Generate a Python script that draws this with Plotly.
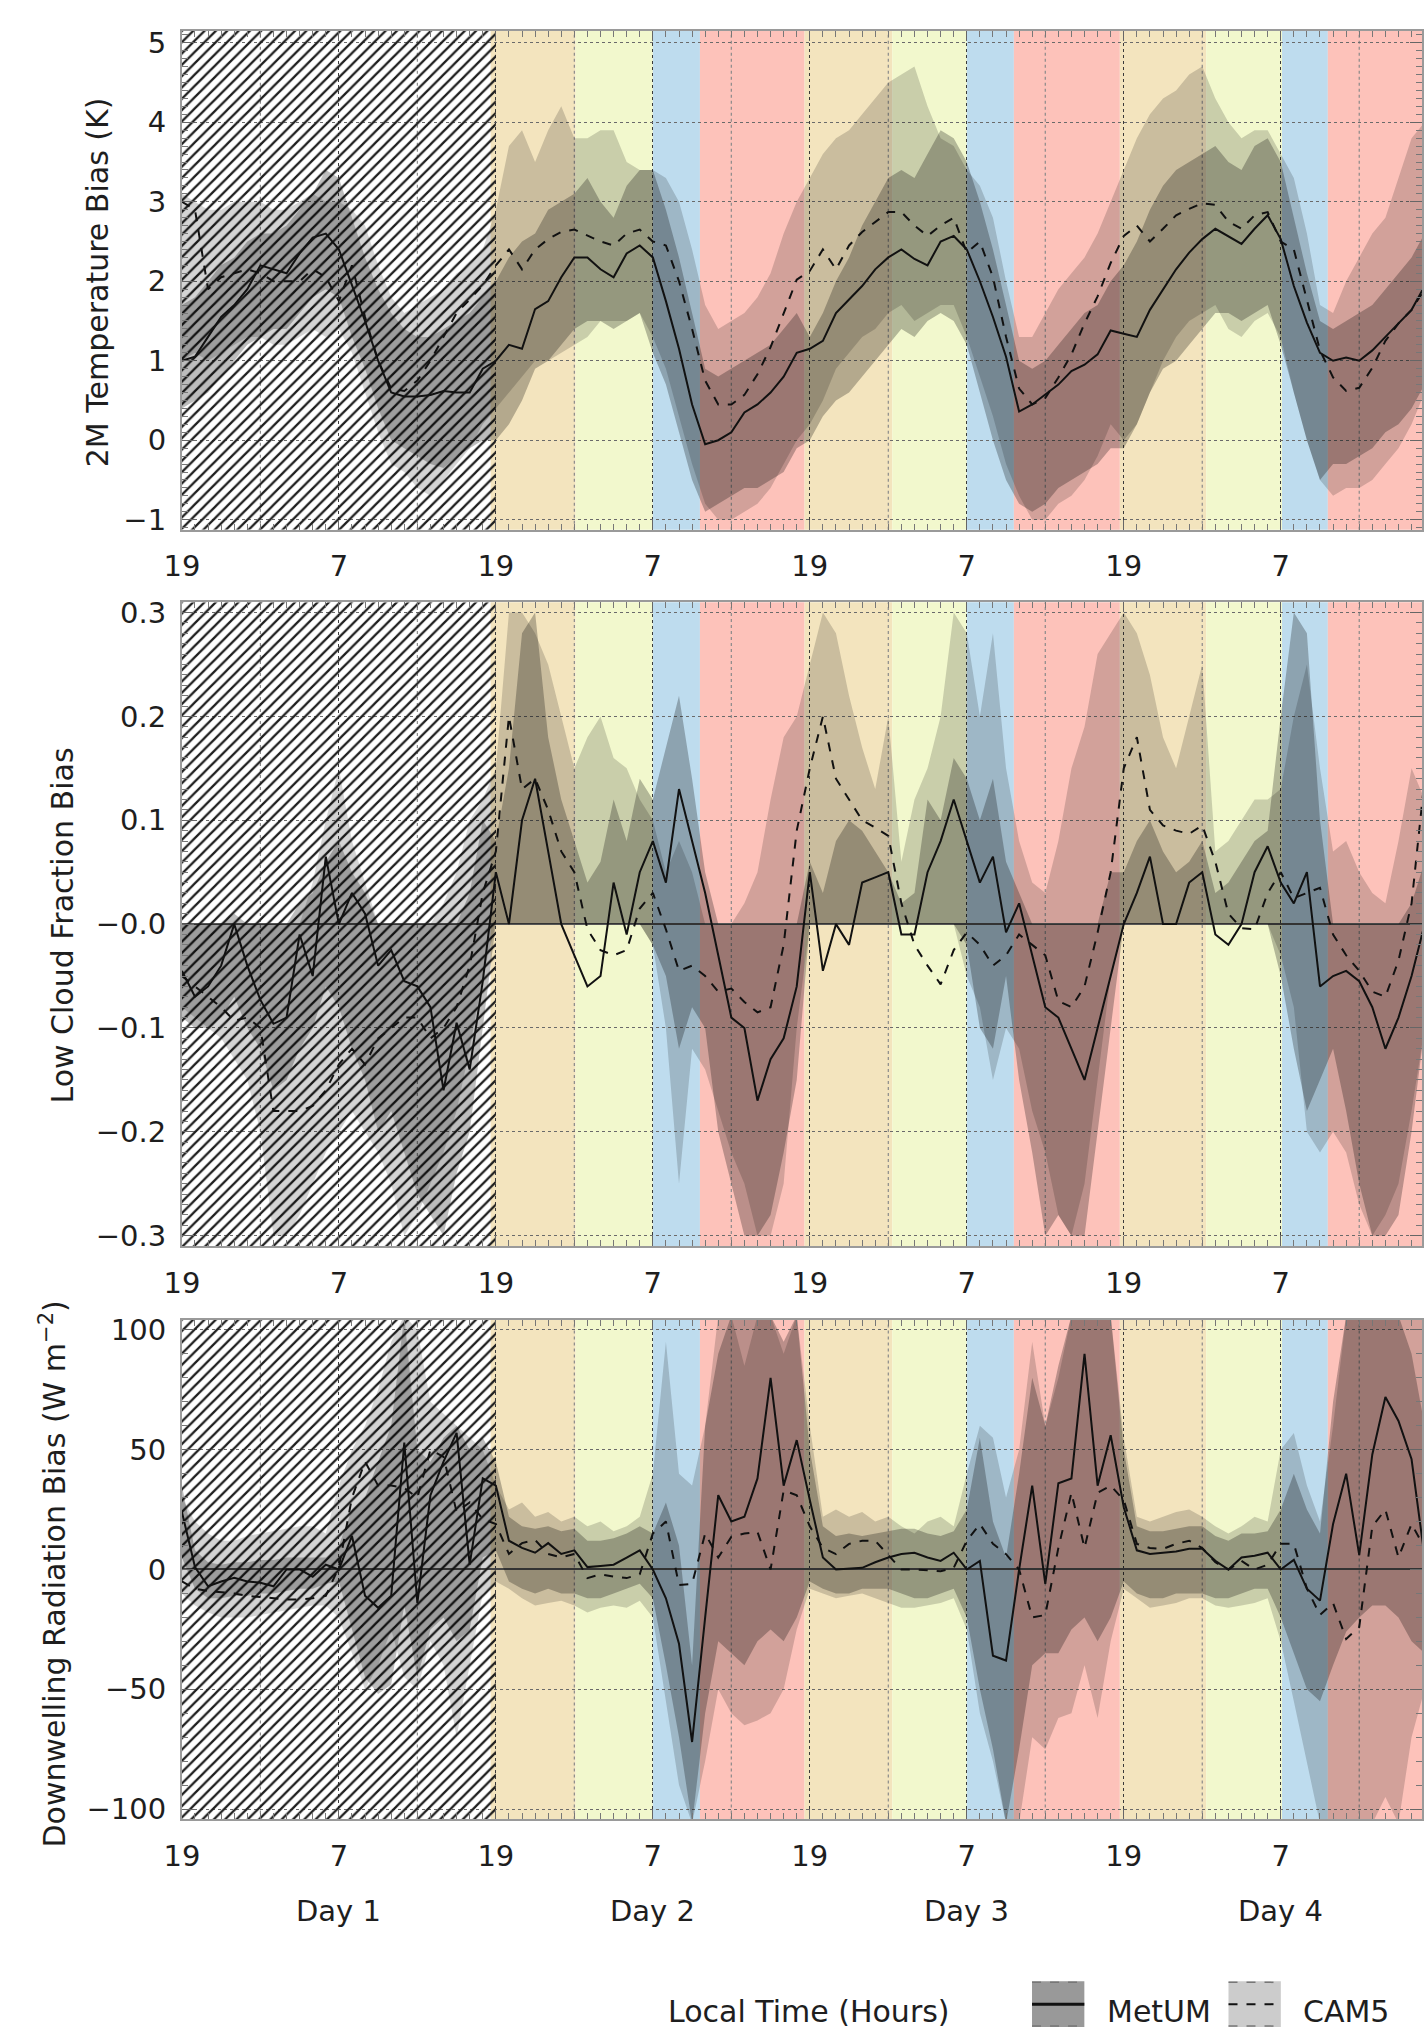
import plotly.graph_objects as go

W, H = 1424, 2042
FONT = "DejaVu Sans"
TXT = "#1e1e1e"

# ---------------- data (hour 0 = 19 local time on day 1) ----------------
HOURS = list(range(96))
X_RANGE = [0, 94.8]
TICK_HOURS = [0, 12, 24, 36, 48, 60, 72, 84]
TICK_TEXT = ["19", "7", "19", "7", "19", "7", "19", "7"]
DAY_HOURS = [12, 36, 60, 84]
DAY_TEXT = ["Day 1", "Day 2", "Day 3", "Day 4"]
GRID6_HOURS = [6, 18, 30, 42, 54, 66, 78, 90]
SPINUP_END = 24

PERIOD_START = [23.6, 30.1, 36.0, 39.6, 47.6, 54.3, 60.0, 63.6, 71.7, 78.3, 84.1, 87.6]
PERIOD_END = [30.1, 36.0, 39.6, 47.6, 54.3, 60.0, 63.6, 71.7, 78.3, 84.1, 87.6, 94.8]
PERIOD_COLOR = ["#f3e4be", "#f2f8cd", "#bedcee", "#fdc2ba"] * 3

# 2M temperature bias (K)
T_metum = [1.0, 1.05, 1.3, 1.55, 1.7, 1.9, 2.2, 2.15, 2.1, 2.35, 2.55, 2.6, 2.4, 1.95, 1.5, 1.0, 0.6, 0.55, 0.55, 0.57, 0.62, 0.6, 0.6, 0.9,
           1.0, 1.2, 1.15, 1.65, 1.75, 2.05, 2.3, 2.3, 2.15, 2.05, 2.35, 2.45, 2.3, 1.75, 1.15, 0.45, -0.05, 0.0, 0.1, 0.35, 0.45, 0.6, 0.8, 1.1,
           1.15, 1.25, 1.6, 1.77, 1.94, 2.15, 2.3, 2.4, 2.28, 2.2, 2.5, 2.57, 2.4, 2.0, 1.55, 1.05, 0.36, 0.45, 0.57, 0.7, 0.87, 0.95, 1.08, 1.38,
           1.34, 1.3, 1.64, 1.9, 2.15, 2.36, 2.53, 2.66, 2.57, 2.47, 2.66, 2.83, 2.53, 1.94, 1.48, 1.1, 1.0, 1.04, 1.0, 1.13, 1.3, 1.47, 1.64, 1.94]
T_cam5 = [3.0, 2.9, 1.9, 2.05, 2.1, 2.15, 2.1, 2.0, 2.0, 2.0, 2.15, 2.05, 1.75, 2.2, 1.55, 1.0, 0.65, 0.62, 0.75, 1.0, 1.3, 1.6, 1.77, 1.95,
          2.2, 2.4, 2.15, 2.4, 2.53, 2.62, 2.65, 2.57, 2.5, 2.45, 2.6, 2.65, 2.5, 2.45, 2.0, 1.4, 0.75, 0.45, 0.45, 0.57, 0.83, 1.17, 1.6, 2.02,
          2.13, 2.4, 2.15, 2.45, 2.62, 2.75, 2.87, 2.87, 2.7, 2.57, 2.7, 2.8, 2.36, 2.5, 2.05, 1.3, 0.65, 0.45, 0.53, 0.79, 1.08, 1.47, 1.81, 2.23,
          2.57, 2.7, 2.5, 2.66, 2.83, 2.91, 2.98, 2.96, 2.75, 2.66, 2.83, 2.87, 2.5, 2.4, 1.77, 1.13, 0.79, 0.62, 0.66, 0.91, 1.25, 1.47, 1.64, 1.9]
T_metum_lo = [0.4, 0.5, 0.6, 0.8, 1.0, 1.2, 1.3, 1.4, 1.4, 1.6, 1.8, 1.9, 1.8, 1.3, 0.9, 0.4, 0.0, -0.1, -0.2, -0.3, -0.35, -0.2, -0.1, 0.0,
              0.0, 0.2, 0.5, 0.9, 1.0, 1.2, 1.4, 1.5, 1.5, 1.4, 1.5, 1.6, 1.1, 0.7, 0.1, -0.5, -0.9, -0.8, -0.7, -0.6, -0.6, -0.5, -0.4, -0.1,
              0.0, 0.3, 0.5, 0.6, 0.8, 1.0, 1.2, 1.4, 1.3, 1.5, 1.6, 1.5, 1.2, 0.6, 0.0, -0.5, -0.8, -0.9, -0.8, -0.6, -0.5, -0.4, -0.3, -0.1,
              -0.1, 0.2, 0.6, 0.9, 1.0, 1.2, 1.4, 1.6, 1.6, 1.5, 1.6, 1.7, 1.2, 0.6, 0.0, -0.5, -0.3, -0.3, -0.2, -0.1, 0.1, 0.2, 0.4, 0.7]
T_metum_hi = [1.7, 1.8, 2.0, 2.2, 2.3, 2.5, 2.6, 2.6, 2.7, 2.9, 3.1, 3.4, 3.3, 2.8, 2.3, 1.9, 1.6, 1.4, 1.3, 1.3, 1.4, 1.5, 1.6, 1.8,
              2.0, 2.3, 2.5, 2.6, 2.9, 3.0, 3.1, 3.3, 3.0, 2.8, 3.2, 3.4, 3.4, 2.9, 2.3, 1.6, 0.9, 0.8, 0.9, 1.0, 1.1, 1.2, 1.4, 1.6,
              1.3, 1.6, 2.0, 2.3, 2.7, 3.0, 3.3, 3.4, 3.3, 3.6, 3.9, 3.8, 3.5, 3.0, 2.4, 1.7, 1.0, 0.9, 1.0, 1.2, 1.4, 1.6, 1.7, 2.0,
              2.2, 2.5, 2.9, 3.2, 3.4, 3.5, 3.6, 3.7, 3.5, 3.4, 3.7, 3.8, 3.5, 2.8, 2.1, 1.5, 1.4, 1.5, 1.6, 1.7, 1.9, 2.1, 2.3, 2.6]
T_cam5_lo = [1.0, 1.1, 1.0, 1.1, 1.2, 1.3, 1.3, 1.2, 1.2, 1.3, 1.4, 1.3, 1.4, 1.1, 0.6, 0.1, -0.3, -0.4, -0.6, -0.7, -0.5, -0.3, -0.1, 0.2,
             0.4, 0.6, 0.8, 1.0, 1.0, 1.1, 1.2, 1.3, 1.5, 1.5, 1.5, 1.6, 1.3, 0.9, 0.3, -0.3, -0.8, -1.0, -1.0, -0.9, -0.8, -0.6, -0.3, 0.0,
             0.2, 0.5, 0.9, 1.1, 1.3, 1.4, 1.6, 1.7, 1.5, 1.6, 1.7, 1.7, 1.3, 0.8, 0.3, -0.3, -0.7, -1.0, -1.0, -0.8, -0.7, -0.5, -0.2, 0.2,
             0.0, 0.2, 0.6, 1.0, 1.3, 1.5, 1.6, 1.7, 1.4, 1.3, 1.5, 1.6, 1.3, 0.6, 0.0, -0.5, -0.7, -0.6, -0.6, -0.5, -0.3, -0.1, 0.2, 0.6]
T_cam5_hi = [3.1, 3.0, 2.9, 2.9, 3.0, 3.0, 3.0, 2.9, 2.9, 3.0, 3.1, 3.0, 3.0, 2.9, 2.7, 2.2, 1.8, 1.6, 1.7, 1.8, 1.9, 2.1, 2.2, 2.4,
             2.9, 3.7, 3.9, 3.5, 3.9, 4.2, 3.8, 3.8, 3.9, 3.9, 3.5, 3.4, 3.4, 3.3, 3.0, 2.4, 1.7, 1.4, 1.5, 1.6, 1.8, 2.1, 2.6, 3.0,
             3.3, 3.6, 3.8, 3.9, 4.1, 4.3, 4.5, 4.6, 4.7, 4.2, 3.8, 3.7, 3.4, 3.2, 2.8, 2.0, 1.3, 1.3, 1.6, 1.9, 2.1, 2.3, 2.6, 3.0,
             3.4, 3.8, 4.1, 4.3, 4.4, 4.6, 4.7, 4.3, 4.0, 3.8, 3.9, 3.9, 3.6, 3.3, 2.6, 1.7, 1.6, 2.0, 2.3, 2.6, 2.8, 3.3, 3.8, 4.0]

# Low cloud fraction bias
C_metum = [-0.045, -0.07, -0.06, -0.04, 0.0, -0.04, -0.073, -0.096, -0.09, -0.01, -0.05, 0.065, 0.0, 0.03, 0.01, -0.04, -0.025, -0.055, -0.06, -0.08, -0.16, -0.095, -0.14, -0.055,
           0.05, 0.0, 0.1, 0.14, 0.07, 0.0, -0.03, -0.06, -0.05, 0.04, -0.01, 0.05, 0.08, 0.04, 0.13, 0.08, 0.03, -0.03, -0.09, -0.1, -0.17, -0.13, -0.11, -0.06,
           0.05, -0.045, 0.0, -0.02, 0.04, 0.045, 0.05, -0.01, -0.01, 0.05, 0.08, 0.12, 0.08, 0.04, 0.065, -0.008, 0.02, -0.03, -0.08, -0.09, -0.12, -0.15, -0.1, -0.05,
           0.0, 0.03, 0.065, 0.0, 0.0, 0.04, 0.05, -0.01, -0.02, 0.0, 0.05, 0.075, 0.04, 0.02, 0.05, -0.06, -0.05, -0.045, -0.055, -0.08, -0.12, -0.09, -0.05, 0.0]
C_cam5 = [-0.05, -0.06, -0.07, -0.08, -0.093, -0.09, -0.1, -0.18, -0.18, -0.18, -0.175, -0.16, -0.135, -0.12, -0.135, -0.11, -0.1, -0.09, -0.09, -0.11, -0.1, -0.08, -0.04, 0.03,
          0.07, 0.2, 0.13, 0.14, 0.11, 0.07, 0.05, -0.005, -0.025, -0.03, -0.025, 0.015, 0.03, -0.005, -0.045, -0.04, -0.05, -0.065, -0.062, -0.075, -0.085, -0.08, -0.02, 0.09,
          0.15, 0.2, 0.14, 0.12, 0.1, 0.093, 0.085, 0.02, -0.02, -0.04, -0.058, -0.025, -0.008, -0.02, -0.04, -0.03, -0.01, -0.02, -0.03, -0.074, -0.08, -0.06, -0.008, 0.05,
          0.15, 0.18, 0.11, 0.095, 0.09, 0.087, 0.095, 0.06, 0.01, -0.004, -0.005, 0.03, 0.05, 0.025, 0.03, 0.035, -0.01, -0.03, -0.045, -0.065, -0.07, -0.035, 0.02, 0.14]
C_metum_lo = [-0.09, -0.1, -0.1, -0.09, -0.07, -0.1, -0.12, -0.16, -0.15, -0.12, -0.1, -0.06, -0.08, -0.12, -0.15, -0.2, -0.18, -0.22, -0.26, -0.28, -0.3, -0.24, -0.2, -0.1,
              0.0, 0.0, 0.0, 0.0, 0.0, 0.0, 0.0, 0.0, 0.0, 0.0, 0.0, 0.0, -0.02, -0.05, -0.12, -0.08, -0.1, -0.2, -0.25, -0.3, -0.3, -0.28, -0.22, -0.15,
              0.0, 0.0, 0.0, 0.0, 0.0, 0.0, 0.0, 0.0, 0.0, 0.0, 0.0, 0.0, -0.02, -0.1, -0.12, -0.05, -0.15, -0.22, -0.3, -0.28, -0.3, -0.3, -0.2, -0.1,
              0.0, 0.0, 0.0, 0.0, 0.0, 0.0, 0.0, 0.0, 0.0, 0.0, 0.0, 0.0, -0.05, -0.12, -0.18, -0.15, -0.12, -0.18, -0.25, -0.3, -0.3, -0.28, -0.2, -0.1]
C_metum_hi = [0.0, 0.0, 0.0, 0.0, 0.01, 0.0, 0.0, 0.0, 0.0, 0.02, 0.03, 0.06, 0.08, 0.05, 0.03, 0.0, 0.0, 0.0, 0.0, 0.0, 0.0, 0.0, 0.03, 0.1,
              0.08, 0.15, 0.28, 0.3, 0.18, 0.12, 0.08, 0.04, 0.06, 0.12, 0.08, 0.14, 0.12, 0.17, 0.22, 0.14, 0.05, 0.0, 0.0, 0.0, 0.0, 0.0, 0.0, 0.0,
              0.06, 0.03, 0.08, 0.1, 0.09, 0.07, 0.05, 0.02, 0.03, 0.12, 0.1, 0.16, 0.14, 0.1, 0.14, 0.06, 0.03, 0.0, 0.0, 0.0, 0.0, 0.0, 0.0, 0.05,
              0.05, 0.08, 0.1, 0.07, 0.05, 0.06, 0.08, 0.03, 0.04, 0.06, 0.08, 0.09, 0.2, 0.3, 0.28, 0.1, 0.0, 0.0, 0.0, 0.0, 0.0, 0.0, 0.02, 0.06]
C_cam5_lo = [-0.08, -0.09, -0.1, -0.11, -0.13, -0.15, -0.2, -0.3, -0.3, -0.28, -0.25, -0.22, -0.2, -0.18, -0.2, -0.22, -0.25, -0.3, -0.28, -0.25, -0.22, -0.18, -0.12, -0.05,
             0.0, 0.0, 0.0, 0.0, 0.0, 0.0, 0.0, 0.0, 0.0, 0.0, 0.0, 0.0, -0.02, -0.1, -0.25, -0.12, -0.14, -0.18, -0.22, -0.25, -0.3, -0.3, -0.25, -0.1,
             0.0, 0.0, 0.0, 0.0, 0.0, 0.0, 0.0, 0.0, 0.0, 0.0, 0.0, 0.0, -0.05, -0.08, -0.15, -0.1, -0.12, -0.18, -0.22, -0.28, -0.3, -0.25, -0.15, -0.05,
             0.0, 0.0, 0.0, 0.0, 0.0, 0.0, 0.0, 0.0, 0.0, 0.0, 0.0, 0.0, -0.03, -0.08, -0.2, -0.22, -0.2, -0.22, -0.27, -0.3, -0.28, -0.25, -0.18, -0.1]
C_cam5_hi = [0.0, 0.0, 0.0, 0.0, 0.0, 0.0, 0.0, 0.0, 0.0, 0.0, 0.04, 0.1, 0.15, 0.08, 0.04, 0.0, 0.0, 0.0, 0.0, 0.0, 0.02, 0.05, 0.1, 0.12,
             0.15, 0.3, 0.3, 0.28, 0.25, 0.2, 0.15, 0.18, 0.2, 0.16, 0.15, 0.12, 0.1, 0.05, 0.08, 0.05, 0.0, 0.0, 0.0, 0.02, 0.05, 0.12, 0.18, 0.2,
             0.25, 0.3, 0.28, 0.22, 0.17, 0.13, 0.2, 0.06, 0.12, 0.15, 0.2, 0.3, 0.28, 0.2, 0.28, 0.15, 0.08, 0.04, 0.03, 0.08, 0.15, 0.19, 0.26, 0.28,
             0.3, 0.28, 0.24, 0.18, 0.15, 0.2, 0.25, 0.07, 0.08, 0.1, 0.12, 0.12, 0.13, 0.2, 0.25, 0.15, 0.07, 0.08, 0.05, 0.03, 0.02, 0.08, 0.15, 0.12]

# Downwelling radiation bias (W m-2)
R_metum = [24, 1, -7, -5, -3.5, -5, -5.5, -7, 0, 0, -3, 2, 0, 14, -11, -16, -11, 53, -14, 31, 45, 57, 2, 38,
           35, 12, 9, 7, 11, 6.5, 8, 1, 1.5, 2, 5, 8, 0, -12, -31, -72, -20, 31, 20, 22, 38, 80, 35, 54,
           29, 5, 0, 0.5, 0.7, 3, 5, 6.5, 7, 5, 3.6, 7, 0, 3.6, -36, -38, 0, 35, -6, 36, 38, 90, 35, 56,
           26, 8, 6.5, 7, 7.5, 8.6, 8.6, 3.6, 0, 5, 5.7, 7, 0, 4, -8, -13, 19, 40, 6, 48, 72, 62, 46, 5]
R_cam5 = [-5, -8, -9, -9.5, -10, -11, -11.5, -12, -12.5, -12.5, -12, -11, 1, 30, 45, 35, 35, 34, 30, 50, 47, 24, 28, 21,
          19, 6.5, 11, 12.3, 6.5, 5, 6.5, -3.6, -2, -3, -3.6, -2, 15, 20, -6.5, -6, 15, 5, 13.6, 15, 15.7, 0, 33, 31,
          18, 9, 6.4, 10.7, 12, 12, 6, 0, 0, -0.5, -0.7, 0.7, 12, 19, 10.7, 6.4, 0, -20, -19, 9, 32, 9, 32, 35,
          29, 10.7, 9, 8.6, 10.7, 12, 9, 3, 0, 3.6, 0, 2, 10.7, 10.7, -8, -19, -14, -29, -24, 18, 25, 5, 19, 9]
R_metum_lo = [5, -8, -12, -12, -11, -11, -10, -10, -9, -8, -8, -6, -5, -25, -45, -52, -48, -15, -45, -25, -20, -30, -25, 5,
              8, -5, -8, -10, -8, -10, -10, -12, -12, -10, -8, -6, -12, -40, -70, -106, -60, -30, -35, -40, -30, -25, -30, -20,
              -5, -8, -10, -10, -8, -8, -8, -10, -12, -12, -10, -8, -20, -50, -75, -106, -75, -40, -35, -35, -25, -20, -30, -20,
              -5, -10, -12, -12, -10, -10, -10, -12, -12, -10, -8, -8, -20, -35, -50, -55, -40, -26, -20, -15, -15, -20, -30, -35]
R_metum_hi = [35, 8, 3, 2, 3, 3, 4, 4, 5, 5, 5, 5, 10, 25, 30, 45, 60, 106, 50, 45, 55, 60, 50, 55,
              45, 22, 18, 17, 18, 16, 17, 12, 12, 13, 15, 18, 15, 28, 10, -40, 60, 90, 106, 106, 106, 106, 95, 106,
              50, 18, 14, 15, 14, 15, 16, 17, 17, 15, 14, 16, 25, 55, 20, 5, 40, 80, 60, 85, 106, 106, 106, 106,
              50, 18, 16, 16, 17, 18, 18, 14, 12, 15, 15, 16, 25, 40, 25, 15, 70, 106, 106, 106, 106, 106, 90, 60]
R_cam5_lo = [-10, -15, -18, -20, -20, -20, -19, -18, -17, -16, -15, -15, -20, -35, -50, -40, -25, -45, -50, -30, -40, -70, -40, -10,
             -5, -8, -12, -15, -14, -13, -15, -18, -16, -15, -16, -13, -20, -55, -90, -106, -80, -50, -60, -65, -63, -60, -50, -25,
             -8, -10, -12, -11, -10, -12, -14, -16, -16, -15, -14, -12, -25, -60, -80, -106, -106, -70, -75, -62, -60, -40, -62, -30,
             -8, -12, -16, -15, -14, -12, -12, -15, -16, -15, -14, -12, -30, -55, -80, -106, -106, -106, -106, -106, -95, -106, -70, -50]
R_cam5_hi = [30, 20, 15, 12, 12, 14, 15, 16, 17, 18, 18, 15, 35, 50, 60, 75, 95, 106, 100, 70, 65, 60, 55, 50,
             35, 25, 28, 22, 24, 20, 22, 18, 20, 16, 18, 22, 40, 95, 40, 35, 60, 106, 106, 85, 106, 106, 90, 106,
             60, 22, 25, 22, 24, 20, 22, 18, 15, 20, 22, 18, 40, 60, 55, 30, 50, 95, 60, 80, 106, 106, 106, 106,
             55, 22, 20, 22, 24, 25, 22, 18, 15, 18, 22, 20, 50, 57, 35, 20, 60, 106, 106, 106, 106, 106, 106, 106]

T_TICKS = [-1, 0, 1, 2, 3, 4, 5]
T_TICKTEXT = ["\u22121", "0", "1", "2", "3", "4", "5"]
C_TICKS = [-0.3, -0.2, -0.1, 0.0, 0.1, 0.2, 0.3]
C_TICKTEXT = ["\u22120.3", "\u22120.2", "\u22120.1", "\u22120.0", "0.1", "0.2", "0.3"]
R_TICKS = [-100, -50, 0, 50, 100]
R_TICKTEXT = ["\u2212100", "\u221250", "0", "50", "100"]

# ---------------- layout helpers ----------------
def fx(p):
    return p / W


def fy(p):
    return 1 - p / H


PLOT_L, PLOT_R = 166, 1422
panels = [
    dict(top=25, bottom=527, yr=[-1.125, 5.15], ticks=T_TICKS, ticktext=T_TICKTEXT, minor=0.1, zero=False,
         met=T_metum, cam=T_cam5, mlo=T_metum_lo, mhi=T_metum_hi, clo=T_cam5_lo, chi=T_cam5_hi,
         title="2M Temperature Bias (K)", tx=80, ty=278),
    dict(top=600, bottom=1248, yr=[-0.31, 0.31], ticks=C_TICKS, ticktext=C_TICKTEXT, minor=0.01, zero=True,
         met=C_metum, cam=C_cam5, mlo=C_metum_lo, mhi=C_metum_hi, clo=C_cam5_lo, chi=C_cam5_hi,
         title="Low Cloud Fraction Bias", tx=45, ty=925),
    dict(top=1322, bottom=1825, yr=[-104.3, 104.3], ticks=R_TICKS, ticktext=R_TICKTEXT, minor=10, zero=True,
         met=R_metum, cam=R_cam5, mlo=R_metum_lo, mhi=R_metum_hi, clo=R_cam5_lo, chi=R_cam5_hi,
         title="Downwelling Radiation Bias (W m<sup>\u22122</sup>)", tx=36, ty=1578),
]

fig = go.Figure()
shapes = []
annotations = []
CAM_FILL = "rgba(0,0,0,0.17)"
MET_FILL = "rgba(0,0,0,0.26)"

for i, p in enumerate(panels):
    n = "" if i == 0 else str(i + 1)
    xa, ya = "x" + n, "y" + n

    # coloured diurnal periods
    for s, e, c in zip(PERIOD_START, PERIOD_END, PERIOD_COLOR):
        shapes.append(dict(type="rect", xref=xa, yref=ya + " domain", x0=s, x1=e, y0=0, y1=1,
                           fillcolor=c, line=dict(width=0), layer="below"))
    # secondary (6-hourly) grid lines
    for g in GRID6_HOURS:
        shapes.append(dict(type="line", xref=xa, yref=ya + " domain", x0=g, x1=g, y0=0, y1=1,
                           line=dict(color="#8a8a8a", width=1.2, dash="dot"), layer="below"))

    # spin-up hatch (first day)
    y0, y1 = p["yr"]
    fig.add_trace(go.Scatter(x=[0, SPINUP_END, SPINUP_END, 0, 0], y=[y0, y0, y1, y1, y0],
                             xaxis=xa, yaxis=ya, mode="lines", line=dict(width=0),
                             fill="toself", fillcolor="rgba(255,255,255,0)",
                             fillpattern=dict(shape="/", size=8, solidity=0.28, fgcolor="#1e1e1e",
                                              bgcolor="rgba(255,255,255,0)", fillmode="replace"),
                             hoverinfo="skip", showlegend=False))
    # CAM5 range
    fig.add_trace(go.Scatter(x=HOURS, y=p["clo"], xaxis=xa, yaxis=ya, mode="lines",
                             line=dict(width=0), hoverinfo="skip", showlegend=False))
    fig.add_trace(go.Scatter(x=HOURS, y=p["chi"], xaxis=xa, yaxis=ya, mode="lines",
                             line=dict(width=0), fill="tonexty", fillcolor=CAM_FILL,
                             hoverinfo="skip", showlegend=False))
    # MetUM range
    fig.add_trace(go.Scatter(x=HOURS, y=p["mlo"], xaxis=xa, yaxis=ya, mode="lines",
                             line=dict(width=0), hoverinfo="skip", showlegend=False))
    fig.add_trace(go.Scatter(x=HOURS, y=p["mhi"], xaxis=xa, yaxis=ya, mode="lines",
                             line=dict(width=0), fill="tonexty", fillcolor=MET_FILL,
                             hoverinfo="skip", showlegend=False))
    # mean lines
    fig.add_trace(go.Scatter(x=HOURS, y=p["cam"], xaxis=xa, yaxis=ya, mode="lines",
                             line=dict(color="#111", width=2, dash="dash"), name="CAM5", showlegend=False))
    fig.add_trace(go.Scatter(x=HOURS, y=p["met"], xaxis=xa, yaxis=ya, mode="lines",
                             line=dict(color="#111", width=2), name="MetUM", showlegend=False))

    common_axis = dict(ticks="inside", tickcolor="#666", showline=True, linecolor="#9a9a9a", linewidth=2,
                       mirror="allticks", tickfont=dict(family=FONT, size=29, color=TXT))
    fig.update_layout(**{
        "xaxis" + n: dict(domain=[fx(PLOT_L), fx(PLOT_R)], anchor=ya, range=X_RANGE,
                          tickmode="array", tickvals=TICK_HOURS, ticktext=TICK_TEXT, ticklen=10,
                          showgrid=True, gridcolor="#3a3a3a", griddash="dot", gridwidth=1.4,
                          zeroline=False, ticklabelstandoff=10,
                          minor=dict(dtick=1, tick0=0, ticks="inside", ticklen=6, tickcolor="#777", showgrid=False),
                          **common_axis),
        "yaxis" + n: dict(domain=[fy(p["bottom"]), fy(p["top"])], anchor=xa, range=p["yr"],
                          tickmode="array", tickvals=p["ticks"], ticktext=p["ticktext"], ticklen=12,
                          showgrid=True, gridcolor="#6a6a6a", griddash="dot", gridwidth=1.2,
                          zeroline=p["zero"], zerolinecolor="#555", zerolinewidth=2,
                          ticklabelstandoff=8,
                          minor=dict(dtick=p["minor"], ticks="inside", ticklen=6, tickcolor="#777", showgrid=False),
                          **common_axis),
    })
    annotations.append(dict(text=p["title"], x=fx(p["tx"]), y=fy(p["ty"]), xref="paper", yref="paper",
                            textangle=-90, showarrow=False, xanchor="center", yanchor="middle",
                            font=dict(family=FONT, size=30, color=TXT)))

# day labels under the bottom panel
for dh, dt in zip(DAY_HOURS, DAY_TEXT):
    annotations.append(dict(text=dt, x=dh, xref="x3", y=fy(1917), yref="paper", showarrow=False,
                            xanchor="center", yanchor="middle", font=dict(family=FONT, size=29, color=TXT)))

annotations.append(dict(text="Local Time (Hours)", x=fx(801), y=fy(2018), xref="paper", yref="paper",
                        showarrow=False, xanchor="center", yanchor="middle",
                        font=dict(family=FONT, size=30, color=TXT)))

# legend keys
LEG = [("MetUM", 1027, "#999999", "solid", 1101), ("CAM5", 1226, "#cccccc", "dash", 1299)]
for name, x0, fill, dash, tx in LEG:
    x1 = x0 + 53
    shapes.append(dict(type="rect", xref="paper", yref="paper", x0=fx(x0), x1=fx(x1), y0=fy(2034), y1=fy(1988),
                       fillcolor=fill, line=dict(width=0)))
    for yy in (1989, 2033):
        shapes.append(dict(type="line", xref="paper", yref="paper", x0=fx(x0), x1=fx(x1), y0=fy(yy), y1=fy(yy),
                           line=dict(color="#777", width=1.5, dash="dash")))
    shapes.append(dict(type="line", xref="paper", yref="paper", x0=fx(x0), x1=fx(x1), y0=fy(2011), y1=fy(2011),
                       line=dict(color="#111", width=3 if dash == "solid" else 2, dash=dash)))
    annotations.append(dict(text=name, x=fx(tx), y=fy(2018), xref="paper", yref="paper", showarrow=False,
                            xanchor="left", yanchor="middle", font=dict(family=FONT, size=30, color=TXT)))

fig.update_layout(width=W, height=H, margin=dict(l=0, r=0, t=0, b=0),
                  paper_bgcolor="white", plot_bgcolor="white", showlegend=False,
                  shapes=shapes, annotations=annotations,
                  font=dict(family=FONT, color=TXT))

fig.write_html("out.html")
